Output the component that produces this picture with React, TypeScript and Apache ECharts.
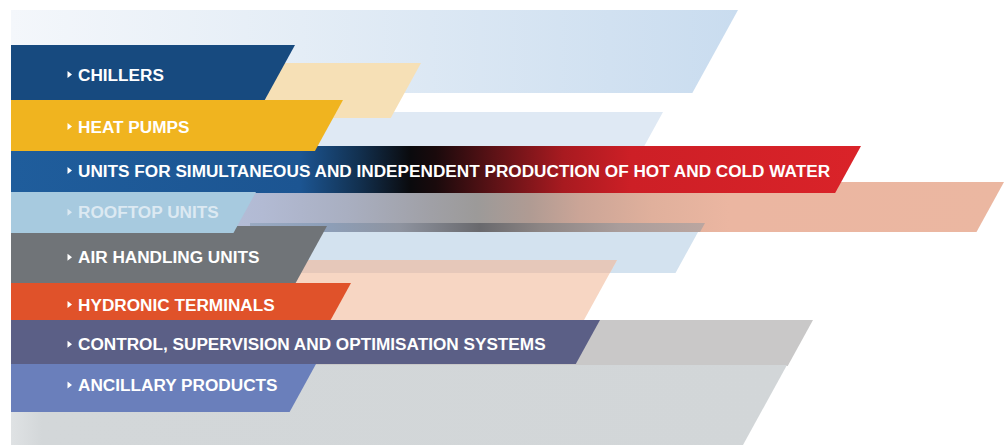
import React, { useEffect, useRef } from "react";
import * as echarts from "echarts";

// Product lines (labels drawn on the front bands, in reading order)
const categories = [
  "CHILLERS",
  "HEAT PUMPS",
  "UNITS FOR SIMULTANEOUS AND INDEPENDENT PRODUCTION OF HOT AND COLD WATER",
  "ROOFTOP UNITS",
  "AIR HANDLING UNITS",
  "HYDRONIC TERMINALS",
  "CONTROL, SUPERVISION AND OPTIMISATION SYSTEMS",
  "ANCILLARY PRODUCTS",
];
// Front band extents (pixel-scale axis units): top, bottom, reach at top edge, label centre
const bandTop = [45, 100, 146, 192, 226, 283, 320, 364];
const bandBottom = [100, 151, 193, 233, 283, 321, 364, 412];
const bandReach = [295, 343, 861, 256, 327, 351, 600, 316];
const labelCenter = [74.5, 126.5, 170.5, 212.2, 257.2, 304.5, 344.2, 385];
const bandDrawOrder = [0, 2, 1, 4, 3, 5, 6, 7];

// Background ribbons (in drawing order): top, bottom, reach at top edge
const ribbonTop = [10, 112, 63, 223, 182, 260, 320, 365];
const ribbonBottom = [93, 150, 118, 273, 232, 320, 366, 445];
const ribbonReach = [738, 663, 421, 703, 1004, 617, 813, 787];

const SLANT = 0.55;
const LEFT = 11;

const grad = (x0: number, x1: number, stops: [number, string][]) =>
  new echarts.graphic.LinearGradient(
    x0, 0, x1, 0,
    stops.map(([offset, color]) => ({ offset, color })),
    true
  );

const ribbonFill = (i: number, x0: number, x1: number): any => {
  switch (i) {
    case 0:
      return grad(x0, x1, [[0, "#f4f7fb"], [0.4, "#e4edf6"], [1, "#c9dcef"]]);
    case 1:
      return "#dfe9f4";
    case 2:
      return "#f6e0b6";
    case 3:
      return "#d3e2ef";
    case 4:
      return grad(x0, x1, [
        [0, "#b3bcd6"], [0.03, "#b2bad3"], [0.14, "#a9afc1"], [0.25, "#a0a0a6"],
        [0.31, "#9c9a99"], [0.38, "#b09b93"], [0.445, "#cba597"], [0.54, "#e0b09c"],
        [0.64, "#ebb6a1"], [1, "#ebb7a1"],
      ]);
    case 5:
      return "#f7d6c3";
    case 6:
      return "#c9c8c8";
    default:
      return grad(x0, x1, [[0, "#dfe2e4"], [0.04, "#d3d7d9"], [1, "#d2d6d8"]]);
  }
};

const bandFill = (i: number, x0: number, x1: number): any => {
  switch (i) {
    case 0:
      return "#174a7f";
    case 1:
      return "#f0b41f";
    case 2:
      return grad(x0, x1, [
        [0, "#1f5d9c"], [0.34, "#1c5592"], [0.41, "#12304f"], [0.47, "#0a0a0d"],
        [0.5, "#1a0a0c"], [0.57, "#5e1216"], [0.65, "#a81a20"], [0.73, "#cd1f26"],
        [1, "#da2329"],
      ]);
    case 3:
      return "#a7cadf";
    case 4:
      return "#707478";
    case 5:
      return "#e0522a";
    case 6:
      return "#5b5f86";
    default:
      return "#6a7fbb";
  }
};

const quad = (api: any, top: number, bottom: number, reach: number, left: number) => {
  const p1 = api.coord([left, top]);
  const p2 = api.coord([reach, top]);
  const p3 = api.coord([reach - SLANT * (bottom - top), bottom]);
  const p4 = api.coord([left, bottom]);
  return [p1, p2, p3, p4];
};

export default function App() {
  const ref = useRef<HTMLDivElement>(null);

  useEffect(() => {
    if (!ref.current) return;
    const chart = echarts.init(ref.current, null, { renderer: "svg" });

    const ribbonData = ribbonTop.map((t, i) => [t, ribbonBottom[i], ribbonReach[i], i]);
    const bandData = bandDrawOrder.map((i) => [bandTop[i], bandBottom[i], bandReach[i], labelCenter[i], i]);

    chart.setOption({
      animation: false,
      backgroundColor: "#ffffff",
      grid: { left: 0, right: 0, top: 0, bottom: 0, containLabel: false },
      xAxis: { type: "value", min: 0, max: 1004, show: false },
      yAxis: { type: "value", min: 0, max: 445, inverse: true, show: false },
      series: [
        {
          type: "custom",
          silent: true,
          clip: false,
          data: ribbonData,
          renderItem: (params: any, api: any) => {
            const top = api.value(0);
            const bottom = api.value(1);
            const reach = api.value(2);
            const idx = api.value(3);
            const pts = quad(api, top, bottom, reach, LEFT);
            const x0 = api.coord([LEFT, 0])[0];
            const x1 = api.coord([reach, 0])[0];
            const children: any[] = [
              { type: "polygon", shape: { points: pts }, style: { fill: ribbonFill(idx, idx === 4 ? api.coord([240, 0])[0] : x0, x1) } },
            ];
            if (idx === 4) {
              // overlap of the blended ribbon with the pale blue ribbon beneath it
              const sTop = bottom - 9;
              const a = api.coord([250, sTop]);
              const b = api.coord([705, sTop]);
              const c = api.coord([705 - SLANT * 9, bottom]);
              const d = api.coord([250, bottom]);
              children.push({
                type: "polygon",
                shape: { points: [a, b, c, d] },
                style: {
                  fill: grad(a[0], b[0], [
                    [0, "#9aaac2"], [0.165, "#8d9fb9"], [0.33, "#8e939f"],
                    [0.505, "#69696d"], [0.637, "#8c8584"], [0.813, "#aa9d9b"],
                    [1, "#bba6a0"],
                  ]),
                },
              });
            }
            if (idx === 5) {
              // overlap of the peach ribbon with the pale blue ribbon above it
              const sBottom = 273;
              const a = api.coord([LEFT, top]);
              const b = api.coord([reach, top]);
              const c = api.coord([reach - SLANT * (sBottom - top), sBottom]);
              const d = api.coord([LEFT, sBottom]);
              children.push({
                type: "polygon",
                shape: { points: [a, b, c, d] },
                style: { fill: "#e6c8ba" },
              });
            }
            return { type: "group", children };
          },
        },
        {
          type: "custom",
          silent: true,
          clip: false,
          data: bandData,
          renderItem: (params: any, api: any) => {
            const top = api.value(0);
            const bottom = api.value(1);
            const reach = api.value(2);
            const cy = api.value(3);
            const idx = api.value(4);
            const pts = quad(api, top, bottom, reach, LEFT);
            const x0 = api.coord([LEFT, 0])[0];
            const x1 = api.coord([reach, 0])[0];
            const textColor = idx === 3 ? "#dce9f2" : "#ffffff";
            const t1 = api.coord([67.5, cy - 3.5]);
            const t2 = api.coord([72, cy]);
            const t3 = api.coord([67.5, cy + 3.5]);
            const tp = api.coord([78, cy]);
            return {
              type: "group",
              children: [
                { type: "polygon", shape: { points: pts }, style: { fill: bandFill(idx, x0, x1) } },
                { type: "polygon", shape: { points: [t1, t2, t3] }, style: { fill: textColor } },
                {
                  type: "text",
                  x: tp[0],
                  y: tp[1],
                  style: {
                    text: categories[idx],
                    fill: textColor,
                    fontFamily: "Liberation Sans, Arial, sans-serif",
                    fontWeight: "bold",
                    fontSize: 17.2,
                    align: "left",
                    verticalAlign: "middle",
                  },
                },
              ],
            };
          },
        },
      ],
    });

    return () => chart.dispose();
  }, []);

  return (
    <div
      ref={ref}
      style={{ position: "fixed", left: 0, top: 0, width: 1004, height: 445 }}
    />
  );
}
